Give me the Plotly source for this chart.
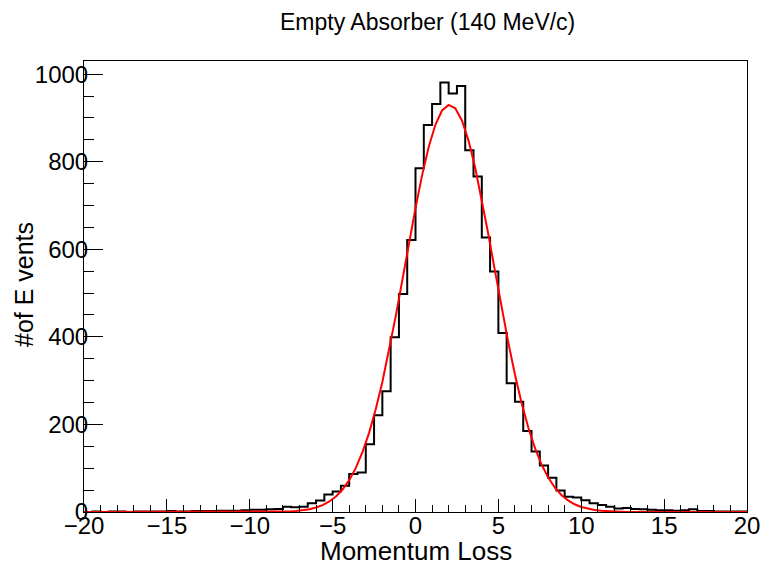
import plotly.graph_objects as go

# ---- data ----
x_min = -20.0
bin_width = 0.5
counts = [0, 1, 0, 1, 1, 0, 1, 1, 1, 1,
          2, 1, 1, 2, 2, 2, 3, 3, 3, 4,
          5, 5, 6, 7, 12, 11, 12, 20, 26, 40,
          47, 60, 87, 90, 155, 221, 276, 399, 498, 621,
          785, 884, 932, 981, 956, 973, 826, 766, 627, 549,
          409, 294, 252, 185, 138, 106, 78, 49, 35, 33,
          27, 20, 16, 12, 8, 9, 7, 6, 5, 4,
          4, 3, 4, 6, 2, 2, 1, 1, 1, 1]

fit_x_start = -20.0
fit_x_step = 0.4
fit_y = ([0] * 29 +
         [0.46, 0.82, 1.42, 2.41, 3.99, 6.45, 10.2, 15.8, 24.0, 35.4,
          51.4, 72.8, 100.8, 136.5, 180.8, 234.4, 296.9, 367.8, 445.7, 528.3,
          612.3, 694.0, 769.4, 834.1, 884.3, 917.0, 929.8, 922.1, 894.3, 848.2,
          786.8, 713.8, 633.1, 549.4, 466.1, 386.8, 313.9, 249.1, 193.4, 146.8,
          108.9, 79.1, 56.1, 39.0, 26.5, 17.6, 11.4, 7.25, 4.51, 2.74,
          1.63, 0.94, 0.5] +
         [0] * 19)

x_tick_vals = [-20, -15, -10, -5, 0, 5, 10, 15, 20]
y_tick_vals = [0, 200, 400, 600, 800, 1000]

title_text = "Empty Absorber (140 MeV/c)"
x_title = "Momentum Loss"
y_title = "#of E vents"

# ---- build ----
edges = [x_min + i * bin_width for i in range(len(counts) + 1)]
hist_y = counts + [counts[-1]]
fit_x = [fit_x_start + i * fit_x_step for i in range(len(fit_y))]

FONT = "Liberation Sans, Arial, sans-serif"

fig = go.Figure()
fig.add_trace(go.Scatter(x=edges, y=hist_y, mode="lines", line_shape="hv",
                         line=dict(color="black", width=2), showlegend=False,
                         hoverinfo="skip"))
fig.add_trace(go.Scatter(x=fit_x, y=fit_y, mode="lines",
                         line=dict(color="red", width=2), showlegend=False))

fig.update_layout(
    width=765, height=566,
    margin=dict(l=84, r=18, t=61, b=54, autoexpand=False),
    paper_bgcolor="white", plot_bgcolor="white",
    font=dict(family=FONT, size=24, color="black"),
    showlegend=False,
)
fig.update_xaxes(range=[-20, 20], tickvals=x_tick_vals, ticks="inside",
                 ticklen=13, tickwidth=1, tickcolor="black",
                 minor=dict(dtick=1, ticks="inside", ticklen=7, tickcolor="black", tickwidth=1, showgrid=False),
                 showline=True, linecolor="black", linewidth=1, mirror=True,
                 showgrid=False, zeroline=False, automargin=False,
                 ticklabelstandoff=-8,
                 tickfont=dict(family=FONT, size=24, color="black"))
fig.update_yaxes(range=[0, 1030], tickvals=y_tick_vals, ticks="inside",
                 ticklen=19, tickwidth=1, tickcolor="black",
                 minor=dict(dtick=50, ticks="inside", ticklen=10, tickcolor="black", tickwidth=1, showgrid=False),
                 showline=True, linecolor="black", linewidth=1, mirror=True,
                 showgrid=False, zeroline=False, automargin=False,
                 ticklabelstandoff=-10,
                 tickfont=dict(family=FONT, size=24, color="black"))

fig.add_annotation(text=title_text, xref="paper", yref="paper", x=0.518, y=1.0865,
                   xanchor="center", yanchor="middle", showarrow=False,
                   font=dict(family=FONT, size=23, color="black"))
fig.add_annotation(text=x_title, xref="paper", yref="paper", x=0.5, y=-0.0865,
                   xanchor="center", yanchor="middle", showarrow=False,
                   font=dict(family=FONT, size=26, color="black"))
fig.add_annotation(text=y_title, xref="paper", yref="paper", x=-0.0905, y=0.5055,
                   xanchor="center", yanchor="middle", showarrow=False, textangle=-90,
                   font=dict(family=FONT, size=25, color="black"))

fig.write_html("out.html")
